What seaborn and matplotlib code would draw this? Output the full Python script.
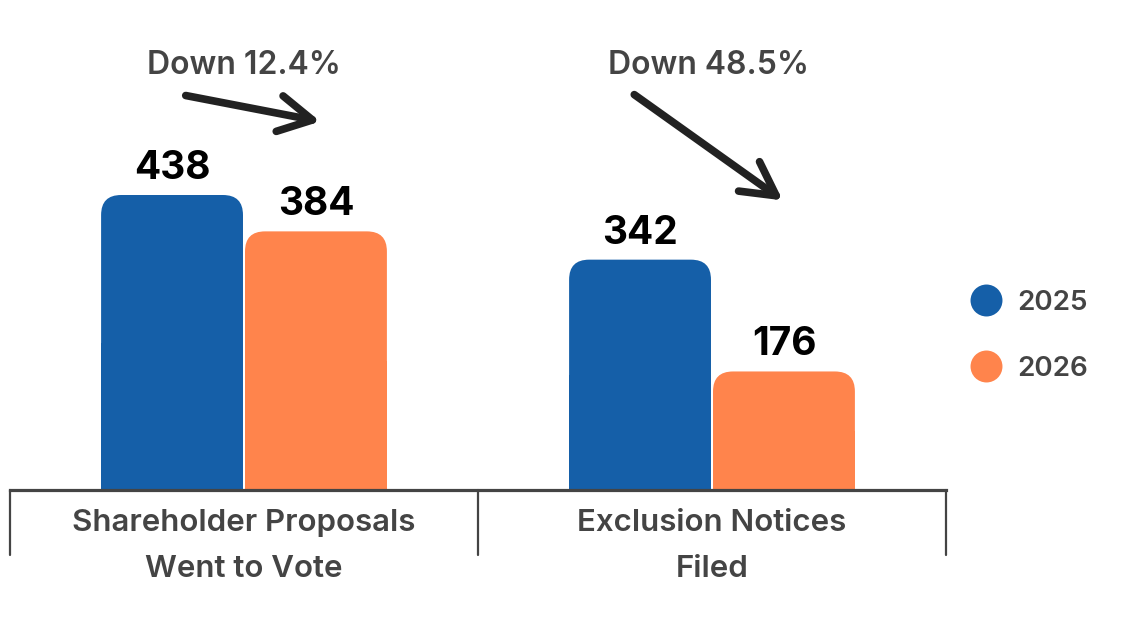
import pandas as pd
import seaborn as sns
import matplotlib.pyplot as plt
from matplotlib.patches import FancyBboxPatch, Rectangle
from matplotlib.lines import Line2D

# chart values
categories = ["Shareholder Proposals\nWent to Vote", "Exclusion Notices\nFiled"]
years = ["2025", "2026"]
counts_2025 = [438, 342]
counts_2026 = [384, 176]
change_labels = ["Down 12.4%", "Down 48.5%"]

colors = {"2025": "#155FA8", "2026": "#FF844C"}
grey = "#444444"

df = pd.DataFrame({
    "category": categories * 2,
    "year": [years[0]] * 2 + [years[1]] * 2,
    "count": counts_2025 + counts_2026,
})

sns.set_style("white")
plt.rcParams["font.family"] = ["Inter", "DejaVu Sans"]

W, H = 1124, 644
fig = plt.figure(figsize=(W / 100, H / 100), dpi=100)
# axes: x from 10px to 946px, y from baseline 490px up to the top
ax = fig.add_axes([10 / W, (H - 490) / H, 936 / W, 490 / H])

sns.barplot(data=df, x="category", y="count", hue="year", palette=colors,
            width=0.615, gap=0.014, saturation=1, ax=ax, legend=False)

ax.set_xlim(-0.5, 1.5)
ymax = 438 * 490 / 295
ax.set_ylim(0, ymax)

# data units per pixel
xu = 2 / 936
yu = ymax / 490

# swap plain bars for bars with rounded top corners
bars = list(ax.patches)
for p in bars:
    x0, w, h = p.get_x(), p.get_width(), p.get_height()
    c = p.get_facecolor()
    p.remove()
    r = 20 * xu
    rb = FancyBboxPatch((x0, 0), w, h, boxstyle=f"round,pad=0,rounding_size={r}",
                        mutation_aspect=yu / xu, facecolor=c, edgecolor="none",
                        linewidth=0)
    ax.add_patch(rb)
    ax.add_patch(Rectangle((x0, 0), w, h / 2, facecolor=c, edgecolor="none", linewidth=0))
    ax.annotate(f"{int(round(h))}", (x0 + w / 2, h), xytext=(0, 8),
                textcoords="offset pixels", ha="center", va="bottom",
                fontsize=28, fontweight="bold", color="black")

# axis styling
for s in ["top", "right", "left"]:
    ax.spines[s].set_visible(False)
ax.spines["bottom"].set_color(grey)
ax.spines["bottom"].set_linewidth(2.3)
ax.set_yticks([])
ax.set_xlabel("")
ax.set_ylabel("")
ax.tick_params(axis="x", length=0, pad=14)
for lab in ax.get_xticklabels():
    lab.set_fontsize(22.5)
    lab.set_fontweight("semibold")
    lab.set_color(grey)
    lab.set_linespacing(1.8)

# separators below the baseline
for xs in [-0.5, 0.5, 1.5]:
    ax.plot([xs, xs], [0, -65 * yu], color=grey, linewidth=1.6, clip_on=False)

# change annotations with arrows
arrow_style = "->,head_length=2.4,head_width=1.3"
ax.annotate("", xy=(323, H - 122), xytext=(183, H - 95), xycoords="figure pixels",
            textcoords="figure pixels",
            arrowprops=dict(arrowstyle=arrow_style, color="#222222", lw=5.5))
ax.annotate("", xy=(785, H - 202), xytext=(632, H - 93), xycoords="figure pixels",
            textcoords="figure pixels",
            arrowprops=dict(arrowstyle=arrow_style, color="#222222", lw=5.5))
fig.text(244 / W, (H - 65) / H, change_labels[0], ha="center", va="center",
         fontsize=23, fontweight="semibold", color=grey)
fig.text(708 / W, (H - 65) / H, change_labels[1], ha="center", va="center",
         fontsize=23, fontweight="semibold", color=grey)

# legend
handles = [Line2D([], [], marker="o", linestyle="", markersize=23,
                  markerfacecolor=colors[y], markeredgecolor="none") for y in years]
leg = fig.legend(handles, years, loc="center left", bbox_to_anchor=(933 / W, (H - 336) / H),
                 frameon=False, fontsize=20, labelspacing=1.45, handletextpad=0.15,
                 labelcolor=grey)
for t in leg.get_texts():
    t.set_fontweight("semibold")

fig.savefig("out.png", dpi=100)
